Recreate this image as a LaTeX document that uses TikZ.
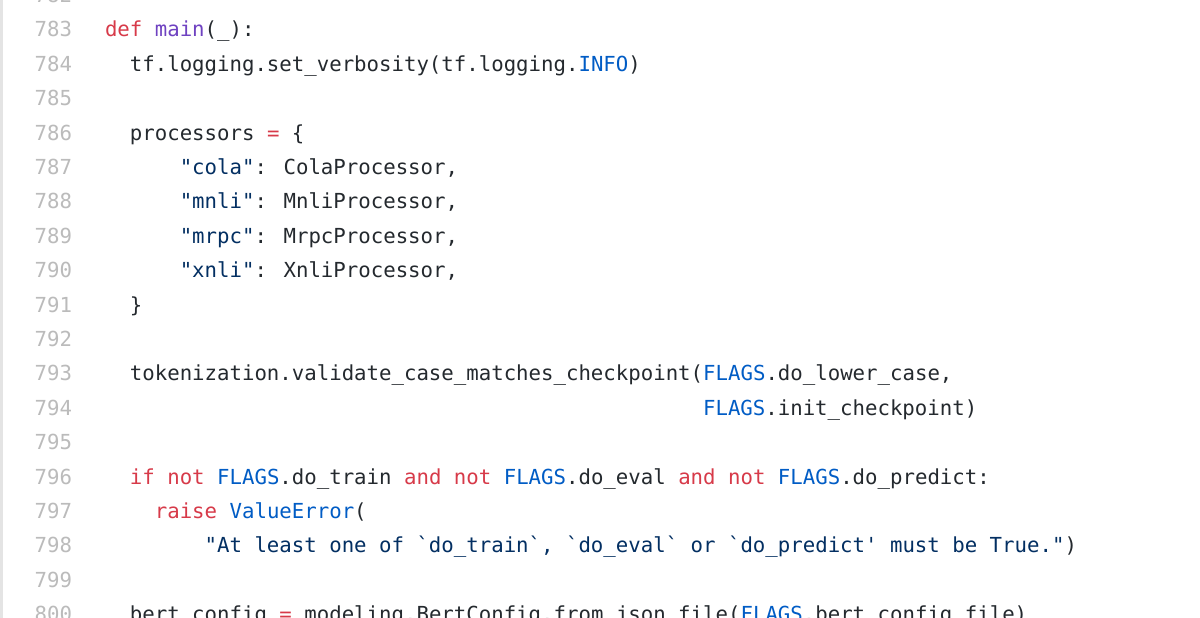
\documentclass[tikz,border=0pt]{standalone}
\usepackage{fontspec}
\newfontfamily\codefont{DejaVu Sans Mono}
\definecolor{txt}{HTML}{24292E}
\definecolor{kwc}{HTML}{D73A49}
\definecolor{fnc}{HTML}{6F42C1}
\definecolor{cnc}{HTML}{005CC5}
\definecolor{stc}{HTML}{032F62}
\definecolor{lnc}{HTML}{BBBBBB}
\definecolor{borderc}{HTML}{E4E4E4}
\newcommand{\kw}[1]{\textcolor{kwc}{#1}}
\newcommand{\fn}[1]{\textcolor{fnc}{#1}}
\newcommand{\cn}[1]{\textcolor{cnc}{#1}}
\newcommand{\st}[1]{\textcolor{stc}{#1}}
\begin{document}
\begin{tikzpicture}[x=1pt,y=1pt,
  codeline/.style={anchor=base west,inner sep=0pt,outer sep=0pt,text=txt,
    font=\codefont\fontsize{20.7}{24}\selectfont},
  lineno/.style={anchor=base east,inner sep=0pt,outer sep=0pt,text=lnc,
    font=\codefont\fontsize{20.7}{24}\selectfont}]
\clip (0,0) rectangle (1200,618);
\fill[white] (0,0) rectangle (1200,618);
\fill[borderc] (0,0) rectangle (2.5,618);
% baseline of line n (from top): 37 + (n-783)*34.4 ; y = 618 - baseline
\foreach \n in {782,...,800}{
  \pgfmathsetmacro{\yy}{618-37-(\n-783)*34.4}
  \node[lineno] (ln\n) at (72,\yy) {\n};
}
\newcommand{\cx}[1]{105+#1*12.46}
\node[codeline] (c783) at ({\cx{0}},{618-37-0*34.4}) {\kw{def} \fn{main}(\_):};
\node[codeline] (c784) at ({\cx{2}},{618-37-1*34.4}) {tf.logging.set\_verbosity(tf.logging.\cn{INFO})};
\node[codeline] (c786) at ({\cx{2}},{618-37-3*34.4}) {processors \kw{=} \{};
\node[codeline] (c787) at ({\cx{6}},{618-37-4*34.4}) {\st{"cola"}: ColaProcessor,};
\node[codeline] (c788) at ({\cx{6}},{618-37-5*34.4}) {\st{"mnli"}: MnliProcessor,};
\node[codeline] (c789) at ({\cx{6}},{618-37-6*34.4}) {\st{"mrpc"}: MrpcProcessor,};
\node[codeline] (c790) at ({\cx{6}},{618-37-7*34.4}) {\st{"xnli"}: XnliProcessor,};
\node[codeline] (c791) at ({\cx{2}},{618-37-8*34.4}) {\}};
\node[codeline] (c793) at ({\cx{2}},{618-37-10*34.4}) {tokenization.validate\_case\_matches\_checkpoint(\cn{FLAGS}.do\_lower\_case,};
\node[codeline] (c794) at ({\cx{48}},{618-37-11*34.4}) {\cn{FLAGS}.init\_checkpoint)};
\node[codeline] (c796) at ({\cx{2}},{618-37-13*34.4}) {\kw{if} \kw{not} \cn{FLAGS}.do\_train \kw{and} \kw{not} \cn{FLAGS}.do\_eval \kw{and} \kw{not} \cn{FLAGS}.do\_predict:};
\node[codeline] (c797) at ({\cx{4}},{618-37-14*34.4}) {\kw{raise} \cn{ValueError}(};
\node[codeline] (c798) at ({\cx{8}},{618-37-15*34.4}) {\st{"At least one of `do\_train`, `do\_eval` or `do\_predict' must be True."})};
\node[codeline] (c800) at ({\cx{2}},{618-37-17*34.4}) {bert\_config \kw{=} modeling.BertConfig.from\_json\_file(\cn{FLAGS}.bert\_config\_file)};
\end{tikzpicture}
\end{document}
